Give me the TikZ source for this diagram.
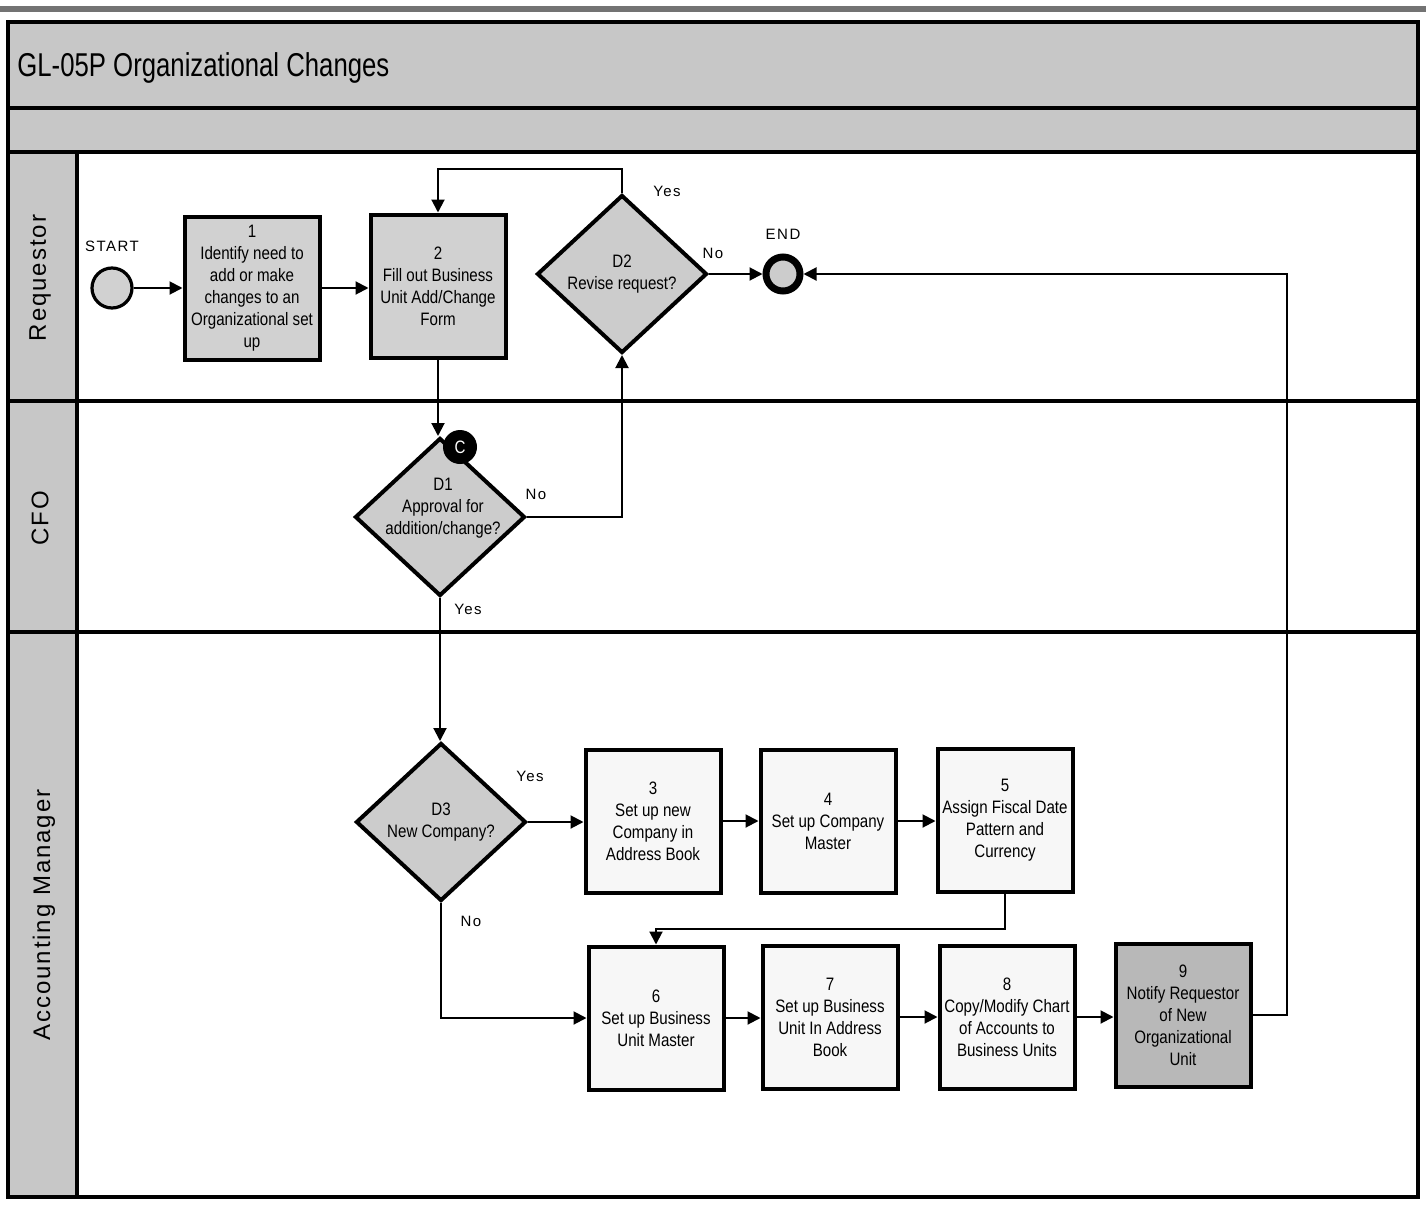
\documentclass[tikz,border=0pt]{standalone}
\usepackage{fontspec}
\setmainfont[FakeStretch=0.84]{Liberation Sans}
\newfontfamily\titlefont[FakeStretch=0.78]{Liberation Sans}
\newfontfamily\lanefont[LetterSpace=8]{Liberation Sans}
\newfontfamily\smallfont[LetterSpace=10]{Liberation Sans}
\usetikzlibrary{shapes.geometric,arrows.meta}
\definecolor{bandgray}{gray}{0.78}
\definecolor{lanegray}{gray}{0.78}
\definecolor{boxgray}{gray}{0.82}
\definecolor{diagray}{gray}{0.80}
\definecolor{darkbox}{gray}{0.72}
\definecolor{lightbox}{gray}{0.97}
\definecolor{scanline}{gray}{0.45}
\tikzset{
  frameline/.style={line width=2.2pt},
  procbox/.style={draw, line width=2pt, rectangle, minimum width=67.5pt, minimum height=71.5pt,
    inner sep=0pt, align=center, font=\fontsize{9}{11}\selectfont},
  graybox/.style={procbox, fill=boxgray},
  whitebox/.style={procbox, fill=lightbox},
  notifybox/.style={procbox, fill=darkbox},
  decision/.style={draw, line width=2pt, diamond, fill=diagray, inner sep=0pt,
    minimum width=85pt, minimum height=79pt},
  dtext/.style={align=center, inner sep=0pt, font=\fontsize{9}{11}\selectfont},
  arr/.style={line width=1pt, -{Triangle[length=6.5pt,width=6.5pt]}},
  lbl/.style={font=\smallfont\fontsize{7.5}{9}\selectfont, inner sep=0pt},
  lanelbl/.style={font=\lanefont\fontsize{12}{14}\selectfont, rotate=90, inner sep=0pt}
}
\begin{document}
\begin{tikzpicture}[x=0.5pt,y=-0.5pt]
\useasboundingbox (0,0) rectangle (1426,1205);
% scan strip at top
\fill[scanline] (0,6) rectangle (1426,12);
% title bands
\fill[bandgray] (8,22) rectangle (1418,108);
\fill[bandgray] (8,110) rectangle (1418,152);
\fill[lanegray] (8,152) rectangle (77,1197);
\draw[frameline] (8,22) rectangle (1418,1197);
\draw[frameline] (8,108) -- (1418,108);
\draw[frameline] (8,152) -- (1418,152);
\draw[frameline] (77,152) -- (77,1197);
\draw[frameline] (8,401) -- (1418,401);
\draw[frameline] (8,632) -- (1418,632);
\node[anchor=west, inner sep=0pt, font=\titlefont\fontsize{16.5}{18}\selectfont] (title) at (17,68) {GL-05P Organizational Changes};
% lane labels
\node[lanelbl] (lreq) at (40,278) {Requestor};
\node[lanelbl] (lcfo) at (40,518) {CFO};
\node[lanelbl] (lam) at (44,915) {Accounting Manager};
% start / end
\node[circle, draw, line width=1.6pt, fill=boxgray, minimum size=20pt, inner sep=0pt] (start) at (112,288) {};
\node[lbl] (startlbl) at (112,246) {START};
\node[circle, draw, line width=3.5pt, fill=diagray, minimum size=17pt, inner sep=0pt] (end) at (783,274) {};
\node[lbl] (endlbl) at (783,234) {END};
% requestor lane
\node[graybox] (b1) at (252,288) {1\\Identify need to\\add or make\\changes to an\\Organizational set\\up};
\node[graybox] (b2) at (438,286) {2\\Fill out Business\\Unit Add/Change\\Form};
\node[decision] (d2) at (622,274) {};
\node[dtext] (d2t) at (622,274) {D2\\Revise request?};
% CFO lane
\node[decision] (d1) at (440,517) {};
\node[dtext] (d1t) at (443,508) {D1\\Approval for\\addition/change?};
\node[circle, fill=black, minimum size=17pt, inner sep=0pt, text=white,
  font=\fontsize{9}{11}\selectfont] (cmark) at (460,447) {C};
% accounting manager lane
\node[decision] (d3) at (441,822) {};
\node[dtext] (d3t) at (441,822) {D3\\New Company?};
\node[whitebox] (b3) at (653,821) {3\\Set up new\\Company in\\Address Book};
\node[whitebox] (b4) at (828,821) {4\\Set up Company\\Master};
\node[whitebox] (b5) at (1005,820) {5\\Assign Fiscal Date\\Pattern and\\Currency};
\node[whitebox] (b6) at (656,1018) {6\\Set up Business\\Unit Master};
\node[whitebox] (b7) at (830,1017) {7\\Set up Business\\Unit In Address\\Book};
\node[whitebox] (b8) at (1007,1017) {8\\Copy/Modify Chart\\of Accounts to\\Business Units};
\node[notifybox] (b9) at (1183,1015) {9\\Notify Requestor\\of New\\Organizational\\Unit};
% connectors
\draw[arr] (start) -- (start -| b1.west);
\draw[arr] (b1.east) -- (b1.east -| b2.west);
\draw[arr] (d2.north) -- ++(0,-24) -| (b2.north);
\draw[arr] (d2.east) -- (end.west);
\draw[arr] (b2.south) -- (b2.south |- d1.north);
\draw[arr] (d1.east) -| (d2.south);
\draw[arr] (d1.south) -- (d1.south |- d3.north);
\draw[arr] (d3.east) -- (d3.east -| b3.west);
\draw[arr] (b3.east) -- (b3.east -| b4.west);
\draw[arr] (b4.east) -- (b4.east -| b5.west);
\draw[arr] (d3.south) |- (b6.west);
\draw[arr] (b5.south) -- ++(0,35) -| (b6.north);
\draw[arr] (b6.east) -- (b6.east -| b7.west);
\draw[arr] (b7.east) -- (b7.east -| b8.west);
\draw[arr] (b8.east) -- (b8.east -| b9.west);
\draw[arr] (b9.east) -- ++(34,0) |- (end.east);
% connector labels
\node[lbl] (yes2) at (667,191) {Yes};
\node[lbl] (no2) at (713,253) {No};
\node[lbl] (no1) at (536,494) {No};
\node[lbl] (yes1) at (468,609) {Yes};
\node[lbl] (yes3) at (530,776) {Yes};
\node[lbl] (no3) at (471,921) {No};
\end{tikzpicture}
\end{document}
